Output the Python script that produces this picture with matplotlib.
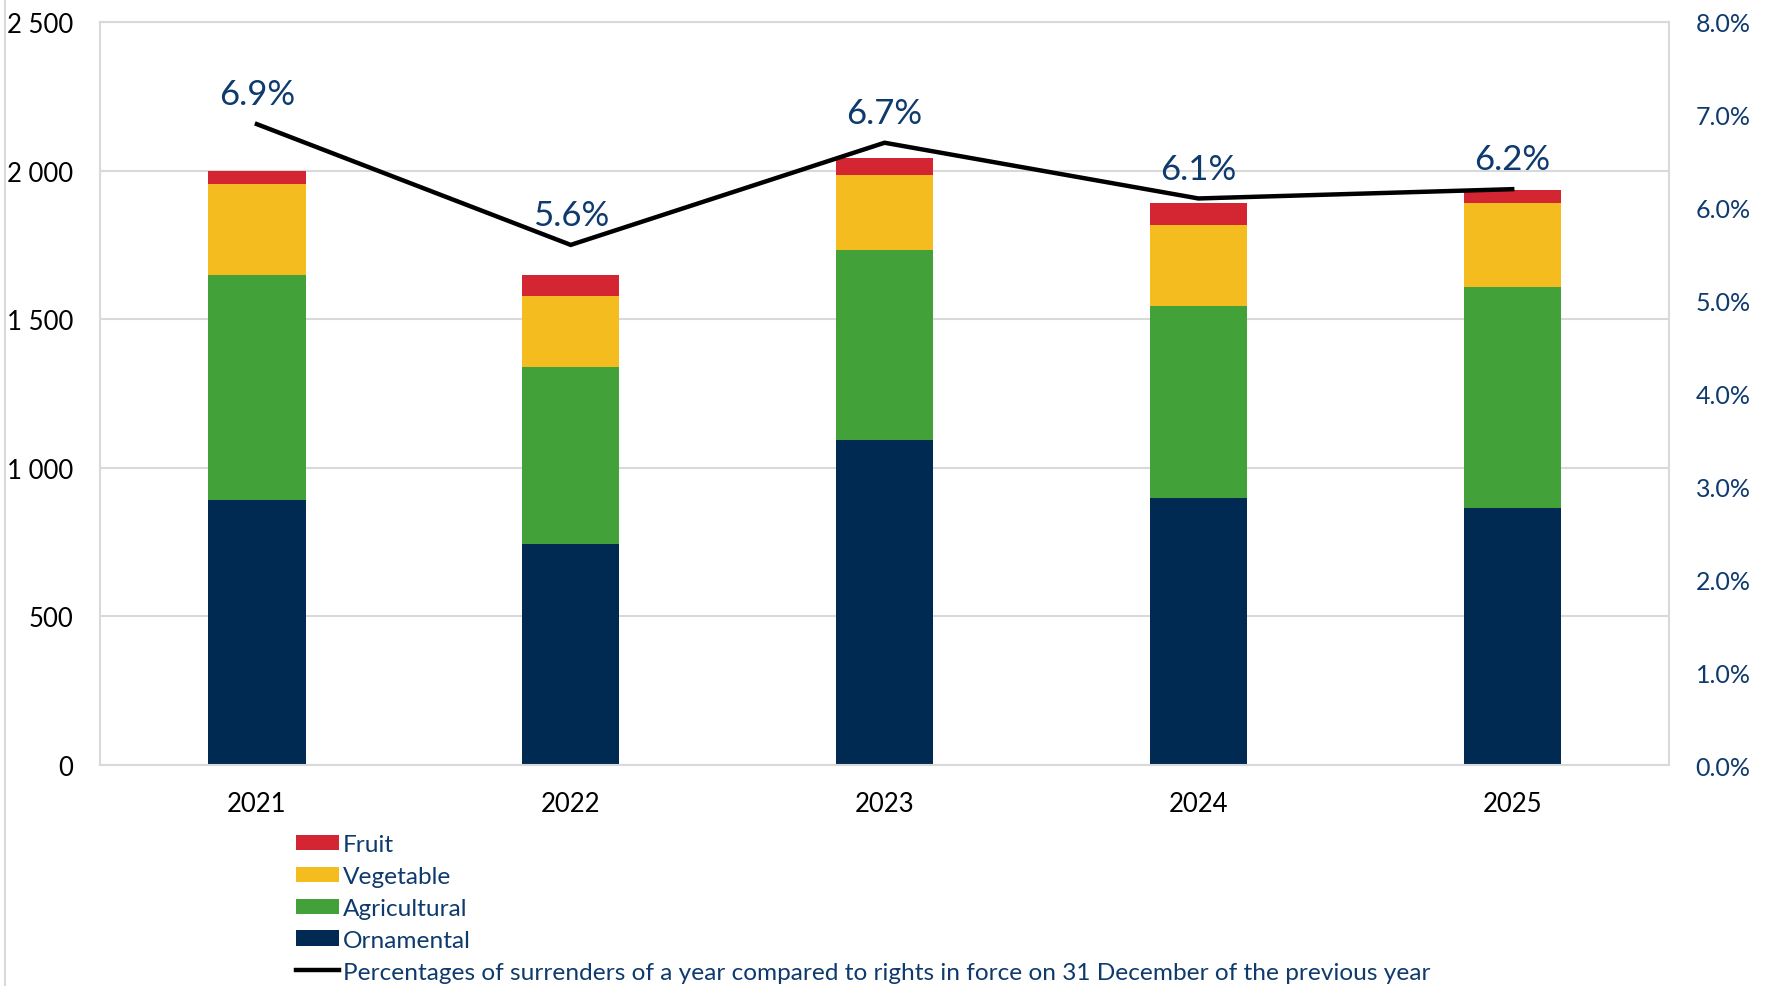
import matplotlib.pyplot as plt
import numpy as np
from matplotlib.lines import Line2D
from matplotlib.ticker import FuncFormatter

plt.rcParams['font.family'] = ['Lato', 'DejaVu Sans']

years = ["2021", "2022", "2023", "2024", "2025"]
ornamental = [890, 744, 1092, 900, 866]
agricultural = [759, 596, 641, 643, 744]
vegetable = [305, 237, 253, 275, 281]
fruit = [44, 73, 56, 73, 45]
surrender_pct = [6.9, 5.6, 6.7, 6.1, 6.2]

navy = "#002A52"
green = "#42A138"
yellow = "#F4BC1F"
red = "#D42532"
text_blue = "#0E3A6E"
grid_col = "#D9D9D9"

fig = plt.figure(figsize=(17.67, 9.87), dpi=100)
ax = fig.add_axes([0.0566, 0.2239, 0.888, 0.7528])
x = np.arange(len(years))
w = 0.31

b1 = ax.bar(x, ornamental, w, color=navy, label="Ornamental", zorder=2)
bottom = np.array(ornamental)
b2 = ax.bar(x, agricultural, w, bottom=bottom, color=green, label="Agricultural", zorder=2)
bottom = bottom + np.array(agricultural)
b3 = ax.bar(x, vegetable, w, bottom=bottom, color=yellow, label="Vegetable", zorder=2)
bottom = bottom + np.array(vegetable)
b4 = ax.bar(x, fruit, w, bottom=bottom, color=red, label="Fruit", zorder=2)

ax.set_xlim(-0.5, 4.5)
ax.set_ylim(0, 2500)
ax.set_yticks(range(0, 2501, 500))
ax.yaxis.set_major_formatter(FuncFormatter(lambda v, p: f"{int(v):,}".replace(",", " ")))
ax.set_xticks(x)
ax.set_xticklabels(years)
ax.grid(axis="y", color=grid_col, linewidth=1.5, zorder=0)
ax.tick_params(axis="both", length=0, labelsize=18.5)
ax.tick_params(axis="y", pad=19)
ax.tick_params(axis="x", pad=19)
for s in ax.spines.values():
    s.set_color(grid_col)
    s.set_linewidth(1.5)

ax2 = ax.twinx()
ax2.plot(x, surrender_pct, color="black", linewidth=3.2, zorder=5,
         solid_joinstyle="miter")
ax2.set_ylim(0, 8)
ax2.set_yticks(range(0, 9))
ax2.yaxis.set_major_formatter(FuncFormatter(lambda v, p: f"{v:.1f}%"))
ax2.tick_params(axis="y", length=0, labelsize=18, colors=text_blue, pad=19)
for s in ax2.spines.values():
    s.set_visible(False)
for xi, v in zip(x, surrender_pct):
    ax2.annotate(f"{v}%", (xi, v), xytext=(0, 10), textcoords="offset points",
                 ha="center", va="bottom", fontsize=25, color=text_blue)

handles = [b4, b3, b2, b1,
           Line2D([0], [0], color="black", linewidth=3.2)]
labels = ["Fruit", "Vegetable", "Agricultural", "Ornamental",
          "Percentages of surrenders of a year compared to rights in force on 31 December of the previous year"]
leg = fig.legend(handles, labels, loc="upper left", bbox_to_anchor=(0.1675, 0.154),
                 frameon=False, fontsize=17.6, handlelength=1.75, handleheight=0.58,
                 handletextpad=0.18, labelspacing=0.445, borderaxespad=0, borderpad=0)
for t in leg.get_texts():
    t.set_color(text_blue)

fig.add_artist(Line2D([0.003, 0.003], [0, 1], transform=fig.transFigure,
                      color=grid_col, linewidth=1.5))

fig.savefig("out.png", dpi=100)
